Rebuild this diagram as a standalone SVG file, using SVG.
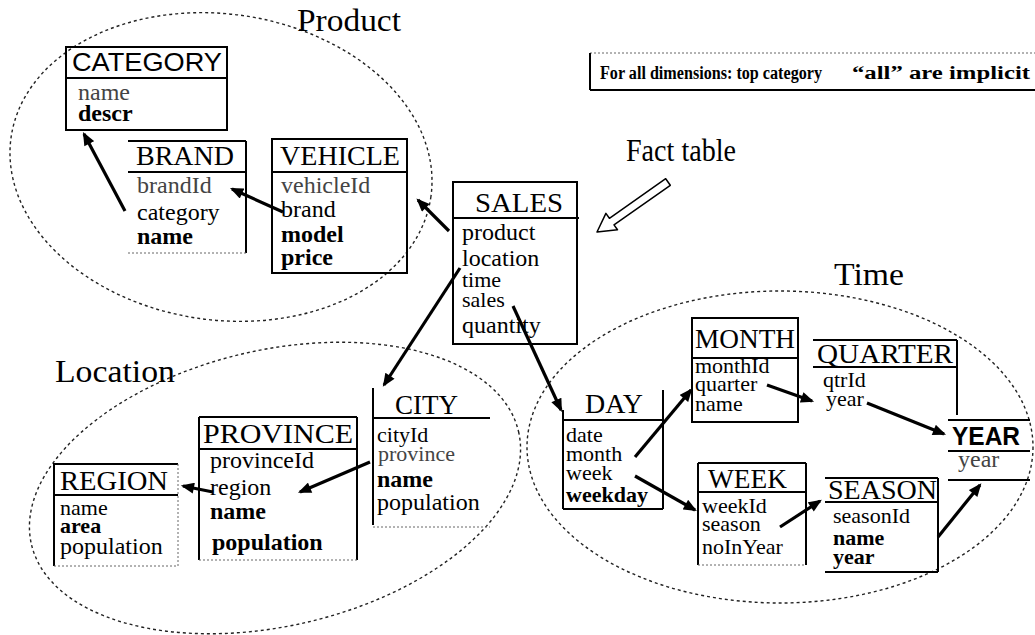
<svg xmlns="http://www.w3.org/2000/svg" width="1035" height="635" viewBox="0 0 1035 635">
  <style>
    .dim{fill:none;stroke:#222;stroke-width:1.4;stroke-dasharray:3 3}
    .lbl{font-family:"Liberation Serif",serif;font-size:31px;fill:#000}
    .t{font-family:"Liberation Serif",serif;font-size:28px;fill:#000}
    .ts{font-family:"Liberation Sans",Arial,sans-serif;font-size:26px;fill:#000}
    .f{font-family:"Liberation Serif",serif;font-size:24px;fill:#000}
    .s{font-size:22px}
    .b{font-weight:bold}
    .g{fill:#444}
    .bx{fill:none;stroke:#000;stroke-width:2}
    .ln{stroke:#000;stroke-width:2;fill:none}
    .dot{fill:none;stroke:#666;stroke-width:1;stroke-dasharray:2 2}
    .ar{stroke:#000;stroke-width:3.2;fill:none;marker-end:url(#ah)}
    .note{font-family:"Liberation Serif",serif;font-size:18px;font-weight:bold;fill:#000}
  </style>
  <defs>
    <marker id="ah" viewBox="0 0 12 10" refX="10" refY="5" markerWidth="14" markerHeight="11" markerUnits="userSpaceOnUse" orient="auto">
      <path d="M0,0 L12,5 L0,10 z" fill="#000"/>
    </marker>
  </defs>

  <rect width="1035" height="635" fill="#fff"/>

  <!-- dimension groupings -->
  <g id="dimensions">
    <ellipse class="dim" cx="221" cy="167" rx="212" ry="153" transform="rotate(8 221 167)"/>
    <ellipse class="dim" cx="275" cy="488" rx="250" ry="138" transform="rotate(-13 275 488)"/>
    <ellipse class="dim" cx="780" cy="447" rx="253" ry="156"/>
    <text class="lbl" x="297" y="31" textLength="104" lengthAdjust="spacingAndGlyphs">Product</text>
    <text class="lbl" x="55" y="382" textLength="120" lengthAdjust="spacingAndGlyphs">Location</text>
    <text class="lbl" x="834" y="285" textLength="70" lengthAdjust="spacingAndGlyphs">Time</text>
  </g>

  <!-- note -->
  <g id="note">
    <line class="dot" x1="590" y1="53" x2="1035" y2="53"/>
    <line class="ln" x1="590" y1="53" x2="590" y2="90" stroke-width="1.5"/>
    <line class="ln" x1="590" y1="90" x2="1035" y2="90" stroke-width="1.5"/>
    <text class="note" x="600" y="79" textLength="222" lengthAdjust="spacingAndGlyphs">For all dimensions: top category</text>
    <text class="note" x="852" y="79" textLength="178" lengthAdjust="spacingAndGlyphs">“all” are implicit</text>
  </g>

  <!-- fact table label with hollow pointer -->
  <g id="fact-label">
    <text class="lbl" x="626" y="161" textLength="110" lengthAdjust="spacingAndGlyphs">Fact table</text>
    <polygon points="665.7,178.7 609.4,218.3 605.9,213.4 597,232 617.5,229.8 614,224.9 670.3,185.3" fill="#fff" stroke="#000" stroke-width="1.5" stroke-linejoin="round"/>
  </g>

  <!-- Product dimension -->
  <g id="category">
    <rect class="bx" x="66" y="47" width="161" height="83"/>
    <line class="ln" x1="66" y1="78" x2="227" y2="78"/>
    <text class="ts" x="72" y="71" textLength="150" lengthAdjust="spacingAndGlyphs">CATEGORY</text>
    <text class="f g" x="78" y="100">name</text>
    <text class="f b" x="78" y="121">descr</text>
  </g>

  <g id="brand">
    <line class="ln" x1="128" y1="141" x2="246" y2="141"/>
    <line class="ln" x1="246" y1="141" x2="246" y2="253"/>
    <line class="ln" x1="128" y1="172" x2="247" y2="172"/>
    <line class="dot" x1="128" y1="253" x2="246" y2="253"/>
    <text class="t" x="136" y="165" textLength="98" lengthAdjust="spacingAndGlyphs">BRAND</text>
    <text class="f g" x="137" y="193">brandId</text>
    <text class="f" x="137" y="220">category</text>
    <text class="f b" x="137" y="244">name</text>
  </g>

  <g id="vehicle">
    <rect class="bx" x="272" y="139" width="135" height="134"/>
    <line class="ln" x1="272" y1="172" x2="407" y2="172"/>
    <text class="t" x="280" y="165" textLength="120" lengthAdjust="spacingAndGlyphs">VEHICLE</text>
    <text class="f g" x="281" y="193">vehicleId</text>
    <text class="f" x="281" y="217">brand</text>
    <text class="f b" x="281" y="242">model</text>
    <text class="f b" x="281" y="265">price</text>
  </g>

  <!-- fact table -->
  <g id="sales">
    <rect class="bx" x="453" y="182" width="124" height="162"/>
    <line class="ln" x1="453" y1="218" x2="579" y2="218"/>
    <text class="t" x="475" y="212" textLength="88" lengthAdjust="spacingAndGlyphs">SALES</text>
    <text class="f" x="462" y="240">product</text>
    <text class="f" x="462" y="266">location</text>
    <text class="f s" x="462" y="287">time</text>
    <text class="f s" x="462" y="307">sales</text>
    <text class="f" x="462" y="333">quantity</text>
  </g>

  <!-- Location dimension -->
  <g id="city">
    <line class="ln" x1="373" y1="388" x2="373" y2="525"/>
    <line class="ln" x1="373" y1="418" x2="490" y2="418"/>
    <line class="dot" x1="373" y1="527" x2="490" y2="527"/>
    <text class="t" x="395" y="414" textLength="63" lengthAdjust="spacingAndGlyphs">CITY</text>
    <text class="f s" x="377" y="442">cityId</text>
    <text class="f s g" x="378" y="461">province</text>
    <text class="f b" x="377" y="487">name</text>
    <text class="f" x="377" y="510">population</text>
  </g>

  <g id="province">
    <line class="ln" x1="199" y1="417" x2="357" y2="417"/>
    <line class="ln" x1="199" y1="417" x2="199" y2="560"/>
    <line class="ln" x1="357" y1="417" x2="357" y2="560"/>
    <line class="ln" x1="199" y1="449" x2="357" y2="449"/>
    <line class="dot" x1="199" y1="560" x2="357" y2="560"/>
    <text class="t" x="203" y="443" textLength="150" lengthAdjust="spacingAndGlyphs">PROVINCE</text>
    <text class="f" x="210" y="468">provinceId</text>
    <text class="f" x="210" y="495">region</text>
    <text class="f b" x="210" y="519">name</text>
    <text class="f b" x="212" y="550">population</text>
  </g>

  <g id="region">
    <line class="ln" x1="53" y1="464" x2="178" y2="464"/>
    <line class="ln" x1="54" y1="464" x2="54" y2="566"/>
    <line class="dot" x1="178" y1="464" x2="178" y2="566"/>
    <line class="ln" x1="53" y1="495" x2="178" y2="495"/>
    <line class="dot" x1="54" y1="566" x2="178" y2="566"/>
    <text class="t" x="60" y="490" textLength="108" lengthAdjust="spacingAndGlyphs">REGION</text>
    <text class="f s" x="60" y="515">name</text>
    <text class="f s b" x="60" y="533">area</text>
    <text class="f" x="60" y="554">population</text>
  </g>

  <!-- Time dimension -->
  <g id="day">
    <line class="ln" x1="563" y1="410" x2="563" y2="509"/>
    <line class="ln" x1="663" y1="390" x2="663" y2="509"/>
    <line class="ln" x1="563" y1="420" x2="663" y2="420"/>
    <line class="ln" x1="563" y1="509" x2="663" y2="509"/>
    <text class="t" x="585" y="413" textLength="58" lengthAdjust="spacingAndGlyphs">DAY</text>
    <text class="f s" x="566" y="442">date</text>
    <text class="f s" x="566" y="461">month</text>
    <text class="f s" x="566" y="480">week</text>
    <text class="f s b" x="566" y="502">weekday</text>
  </g>

  <g id="month">
    <rect class="bx" x="692" y="318" width="106" height="104"/>
    <line class="ln" x1="692" y1="358" x2="798" y2="358"/>
    <text class="t" x="695" y="348" textLength="100" lengthAdjust="spacingAndGlyphs">MONTH</text>
    <text class="f s" x="695" y="373">monthId</text>
    <text class="f s" x="695" y="391">quarter</text>
    <text class="f s" x="695" y="411">name</text>
  </g>

  <g id="quarter">
    <line class="ln" x1="813" y1="340" x2="957" y2="340"/>
    <line class="ln" x1="813" y1="367" x2="957" y2="367"/>
    <line class="ln" x1="957" y1="340" x2="957" y2="415"/>
    <text class="t" x="817" y="363" textLength="136" lengthAdjust="spacingAndGlyphs">QUARTER</text>
    <text class="f s" x="823" y="387">qtrId</text>
    <text class="f s" x="826" y="406">year</text>
  </g>

  <g id="year">
    <line class="ln" x1="948" y1="420" x2="1030" y2="420"/>
    <line class="ln" x1="948" y1="451" x2="1030" y2="451"/>
    <line class="ln" x1="948" y1="480" x2="1030" y2="480"/>
    <text class="ts b" x="952" y="445" textLength="68" lengthAdjust="spacingAndGlyphs">YEAR</text>
    <text class="f g" x="958" y="467">year</text>
  </g>

  <g id="week">
    <line class="ln" x1="698" y1="463" x2="806" y2="463"/>
    <line class="ln" x1="698" y1="463" x2="698" y2="565"/>
    <line class="ln" x1="806" y1="463" x2="806" y2="565"/>
    <line class="ln" x1="698" y1="492" x2="806" y2="492"/>
    <line class="dot" x1="698" y1="565" x2="806" y2="565"/>
    <text class="t" x="708" y="488" textLength="79" lengthAdjust="spacingAndGlyphs">WEEK</text>
    <text class="f s" x="702" y="513">weekId</text>
    <text class="f s" x="702" y="531">season</text>
    <text class="f s" x="702" y="554">noInYear</text>
  </g>

  <g id="season">
    <line class="ln" x1="825" y1="478" x2="938" y2="478"/>
    <line class="ln" x1="825" y1="502" x2="938" y2="502"/>
    <line class="ln" x1="938" y1="478" x2="938" y2="572"/>
    <line class="ln" x1="825" y1="572" x2="938" y2="572"/>
    <text class="t" x="828" y="499" textLength="109" lengthAdjust="spacingAndGlyphs">SEASON</text>
    <text class="f s" x="833" y="523">seasonId</text>
    <text class="f s b" x="833" y="545">name</text>
    <text class="f s b" x="833" y="564">year</text>
  </g>

  <!-- foreign-key references -->
  <g id="connectors">
    <line class="ar" x1="125" y1="211" x2="84" y2="134"/>
    <line class="ar" x1="283" y1="212" x2="232" y2="189"/>
    <line class="ar" x1="449" y1="231" x2="418" y2="200"/>
    <line class="ar" x1="460" y1="268" x2="384" y2="385"/>
    <line class="ar" x1="513" y1="306" x2="561" y2="410"/>
    <line class="ar" x1="370" y1="462" x2="300" y2="492"/>
    <line class="ar" x1="213" y1="492" x2="183" y2="486"/>
    <line class="ar" x1="635" y1="457" x2="691" y2="390"/>
    <line class="ar" x1="635" y1="476" x2="695" y2="510"/>
    <line class="ar" x1="767" y1="385" x2="812" y2="401"/>
    <line class="ar" x1="867" y1="403" x2="944" y2="434"/>
    <line class="ar" x1="780" y1="527" x2="820" y2="501"/>
    <line class="ar" x1="938" y1="537" x2="980" y2="485"/>
  </g>
</svg>
